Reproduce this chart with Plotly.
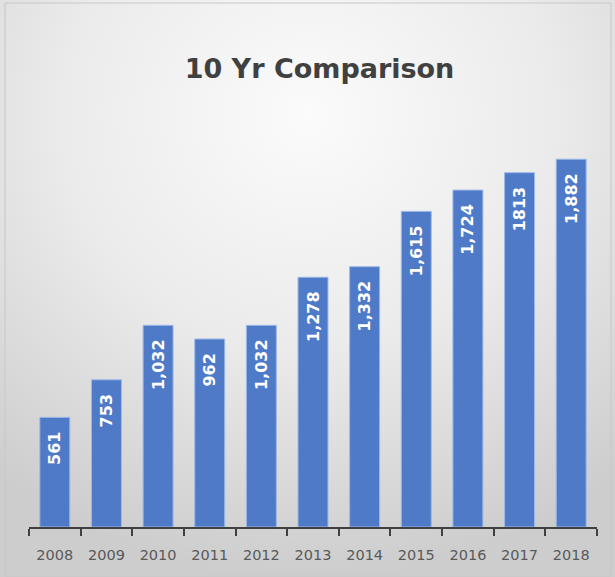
import plotly.graph_objects as go

years = ["2008", "2009", "2010", "2011", "2012", "2013", "2014", "2015", "2016", "2017", "2018"]
values = [561, 753, 1032, 962, 1032, 1278, 1332, 1615, 1724, 1813, 1882]
labels = ["561", "753", "1,032", "962", "1,032", "1,278", "1,332", "1,615", "1,724", "1813", "1,882"]

bg_svg = (
    "data:image/svg+xml;utf8,"
    "<svg xmlns='http://www.w3.org/2000/svg' width='615' height='577'>"
    "<defs><radialGradient id='g' cx='50%25' cy='20%25' r='80%25'>"
    "<stop offset='0' stop-color='%23fbfbfb'/>"
    "<stop offset='0.5' stop-color='%23ebebeb'/>"
    "<stop offset='1' stop-color='%23cdcdcd'/>"
    "</radialGradient></defs>"
    "<rect width='615' height='577' fill='url(%23g)'/></svg>"
)

L, R, T, B = 29, 18, 100, 50
PW, PH = 615 - L - R, 577 - T - B

fig = go.Figure()
fig.add_trace(go.Bar(
    x=years, y=values, text=[l + "\u00a0\u00a0" for l in labels],
    textposition="inside", insidetextanchor="end", textangle=-90,
    textfont=dict(color="white", size=16, family="DejaVu Sans", weight="bold"),
    marker=dict(color="#4f7ac7", line=dict(color="#9bb8e8", width=1)),
    width=0.58, cliponaxis=False,
))

fig.update_layout(
    width=615, height=577,
    margin=dict(l=L, r=R, t=T, b=B),
    paper_bgcolor="#e6e6e6", plot_bgcolor="rgba(0,0,0,0)",
    title=dict(text="<b>10 Yr Comparison</b>", x=319.5/615, xanchor="center", y=0.882, yanchor="middle",
               font=dict(size=27, color="#404040", family="DejaVu Sans")),
    showlegend=False,
    images=[dict(source=bg_svg, xref="paper", yref="paper", x=-L/PW, y=1 + T/PH,
                 sizex=615/PW, sizey=577/PH, xanchor="left", yanchor="top",
                 sizing="stretch", layer="below")],
    shapes=[dict(type="rect", xref="paper", yref="paper",
                 x0=(5 - L)/PW, x1=(611 - L)/PW, y0=(527 - 576)/PH, y1=(527 - 3)/PH,
                 line=dict(color="#c8c8c8", width=1), fillcolor="rgba(0,0,0,0)", layer="below")],
    xaxis=dict(type="category", showline=True, linecolor="#404040", linewidth=2,
               ticks="outside", tickson="boundaries", ticklen=7, tickwidth=2, tickcolor="#404040",
               ticklabelstandoff=14,
               tickfont=dict(size=14.5, color="#595959", family="DejaVu Sans"), showgrid=False),
    yaxis=dict(range=[0, 2185], visible=False, showgrid=False, zeroline=False),
)

fig.write_html("out.html", config={"displayModeBar": False},
               post_script="document.body.style.margin='0';document.body.style.overflow='hidden';")
